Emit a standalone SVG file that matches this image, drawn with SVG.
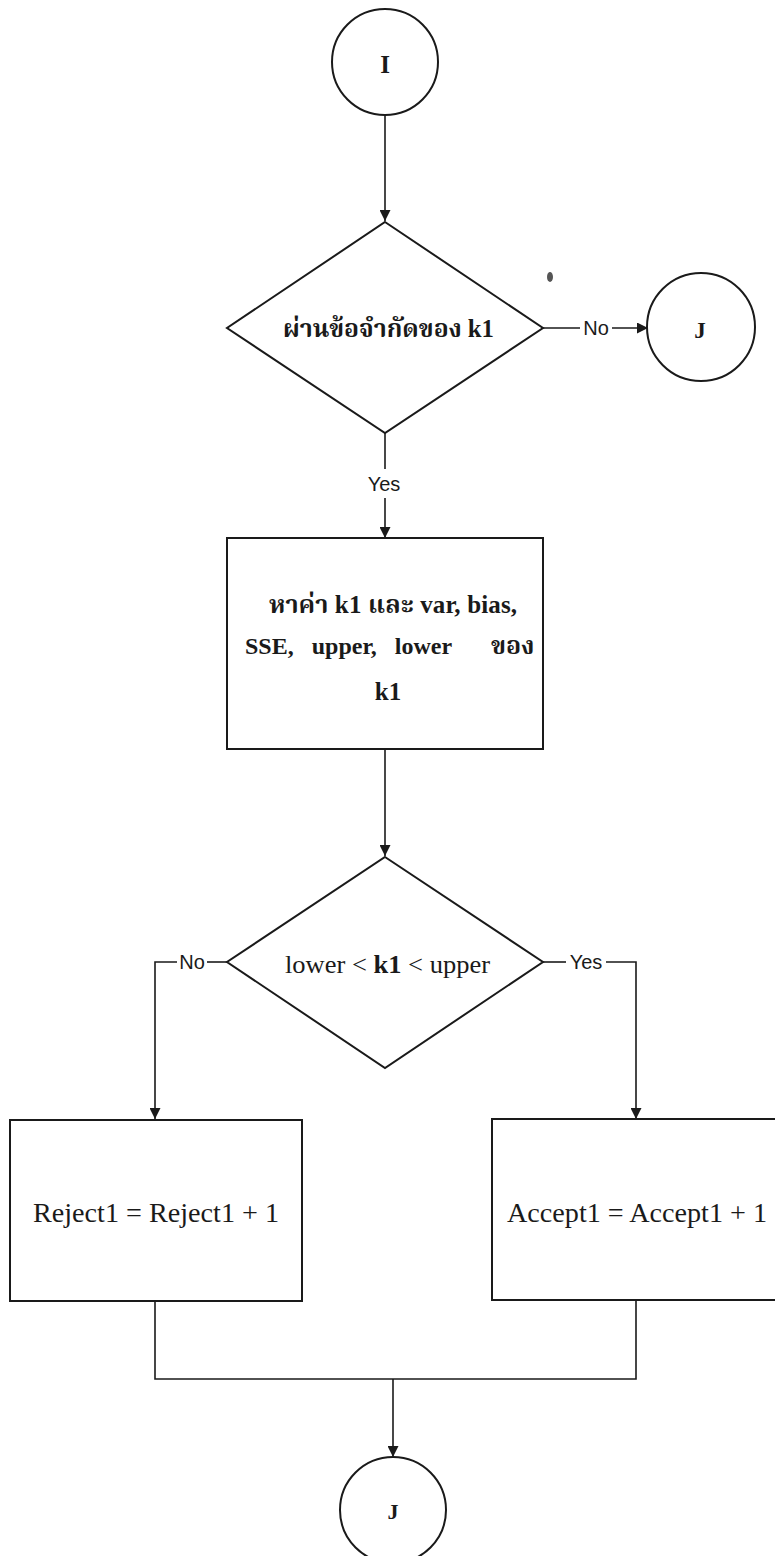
<svg xmlns="http://www.w3.org/2000/svg" width="775" height="1556" viewBox="0 0 775 1556">
<style>
.shape{fill:#fff;stroke:#1a1a1a;stroke-width:2}
.conn{fill:none;stroke:#1a1a1a;stroke-width:1.6}
.ser{font-family:"Liberation Serif","Noto Serif Thai","Noto Sans Thai","DejaVu Serif",serif;fill:#1a1a1a}
.b{font-weight:bold}
.lbl{font-family:"Liberation Sans",Arial,sans-serif;font-size:20px;fill:#1a1a1a}
</style>
<defs>
<marker id="arr" markerWidth="11" markerHeight="11" refX="11" refY="5.5" orient="auto" markerUnits="userSpaceOnUse">
<path d="M0,0 L11,5.5 L0,11 Z" fill="#1a1a1a"/>
</marker>
</defs>
<rect width="775" height="1556" fill="#fff"/>

<g id="connectors">
<line class="conn" x1="385" y1="115" x2="385" y2="221" marker-end="url(#arr)"/>
<line class="conn" x1="543" y1="328" x2="580" y2="328"/>
<line class="conn" x1="612" y1="328" x2="648" y2="328" marker-end="url(#arr)"/>
<line class="conn" x1="385" y1="433" x2="385" y2="469"/>
<line class="conn" x1="385" y1="498" x2="385" y2="538" marker-end="url(#arr)"/>
<line class="conn" x1="385" y1="749" x2="385" y2="856" marker-end="url(#arr)"/>
<polyline class="conn" points="227,962 207,962"/>
<polyline class="conn" points="177,962 155,962 155,1119" marker-end="url(#arr)"/>
<polyline class="conn" points="543,962 566,962"/>
<polyline class="conn" points="606,962 636,962 636,1119" marker-end="url(#arr)"/>
<polyline class="conn" points="155,1301 155,1379 636,1379 636,1300"/>
<line class="conn" x1="393" y1="1379" x2="393" y2="1457" marker-end="url(#arr)"/>
<text class="lbl" x="596" y="335" text-anchor="middle">No</text>
<text class="lbl" x="384" y="491" text-anchor="middle">Yes</text>
<text class="lbl" x="192" y="969" text-anchor="middle">No</text>
<text class="lbl" x="586" y="969" text-anchor="middle">Yes</text>
</g>

<g id="start-I">
<circle class="shape" cx="385" cy="62" r="53"/>
<text class="ser b" x="385" y="73" font-size="25" text-anchor="middle">I</text>
</g>

<g id="decision-k1">
<polygon class="shape" points="385,222 543,328 385,433 227,328"/>
<text class="ser b" x="283" y="337" font-size="25" textLength="211" lengthAdjust="spacingAndGlyphs">ผ่านข้อจำกัดของ k1</text>
</g>

<g id="connector-J-right">
<circle class="shape" cx="701" cy="327" r="54"/>
<text class="ser b" x="700" y="338" font-size="23" text-anchor="middle">J</text>
</g>

<ellipse cx="550" cy="277" rx="3" ry="5" fill="#555"/>

<g id="compute-k1">
<rect class="shape" x="227" y="538" width="316" height="211"/>
<text class="ser b" x="269" y="613" font-size="25" textLength="248" lengthAdjust="spacing">หาค่า k1 และ var, bias,</text>
<text class="ser b" x="245" y="654" font-size="24" word-spacing="12">SSE, upper, lower</text>
<text class="ser b" x="491" y="654" font-size="25">ของ</text>
<text class="ser b" x="388" y="700" font-size="25" text-anchor="middle">k1</text>
</g>

<g id="decision-range">
<polygon class="shape" points="385,857 543,962 385,1068 227,962"/>
<text class="ser" x="285" y="973" font-size="26" textLength="205" lengthAdjust="spacingAndGlyphs">lower &lt; <tspan class="b">k1</tspan> &lt; upper</text>
</g>

<g id="reject">
<rect class="shape" x="10" y="1120" width="292" height="181"/>
<text class="ser" x="33" y="1222" font-size="28" textLength="246" lengthAdjust="spacingAndGlyphs">Reject1 = Reject1 + 1</text>
</g>

<g id="accept">
<rect class="shape" x="492" y="1119" width="290" height="181"/>
<text class="ser" x="507" y="1222" font-size="28" textLength="260" lengthAdjust="spacingAndGlyphs">Accept1 = Accept1 + 1</text>
</g>

<g id="end-J">
<circle class="shape" cx="393" cy="1510" r="53"/>
<text class="ser b" x="393" y="1519" font-size="22" text-anchor="middle">J</text>
</g>
</svg>
